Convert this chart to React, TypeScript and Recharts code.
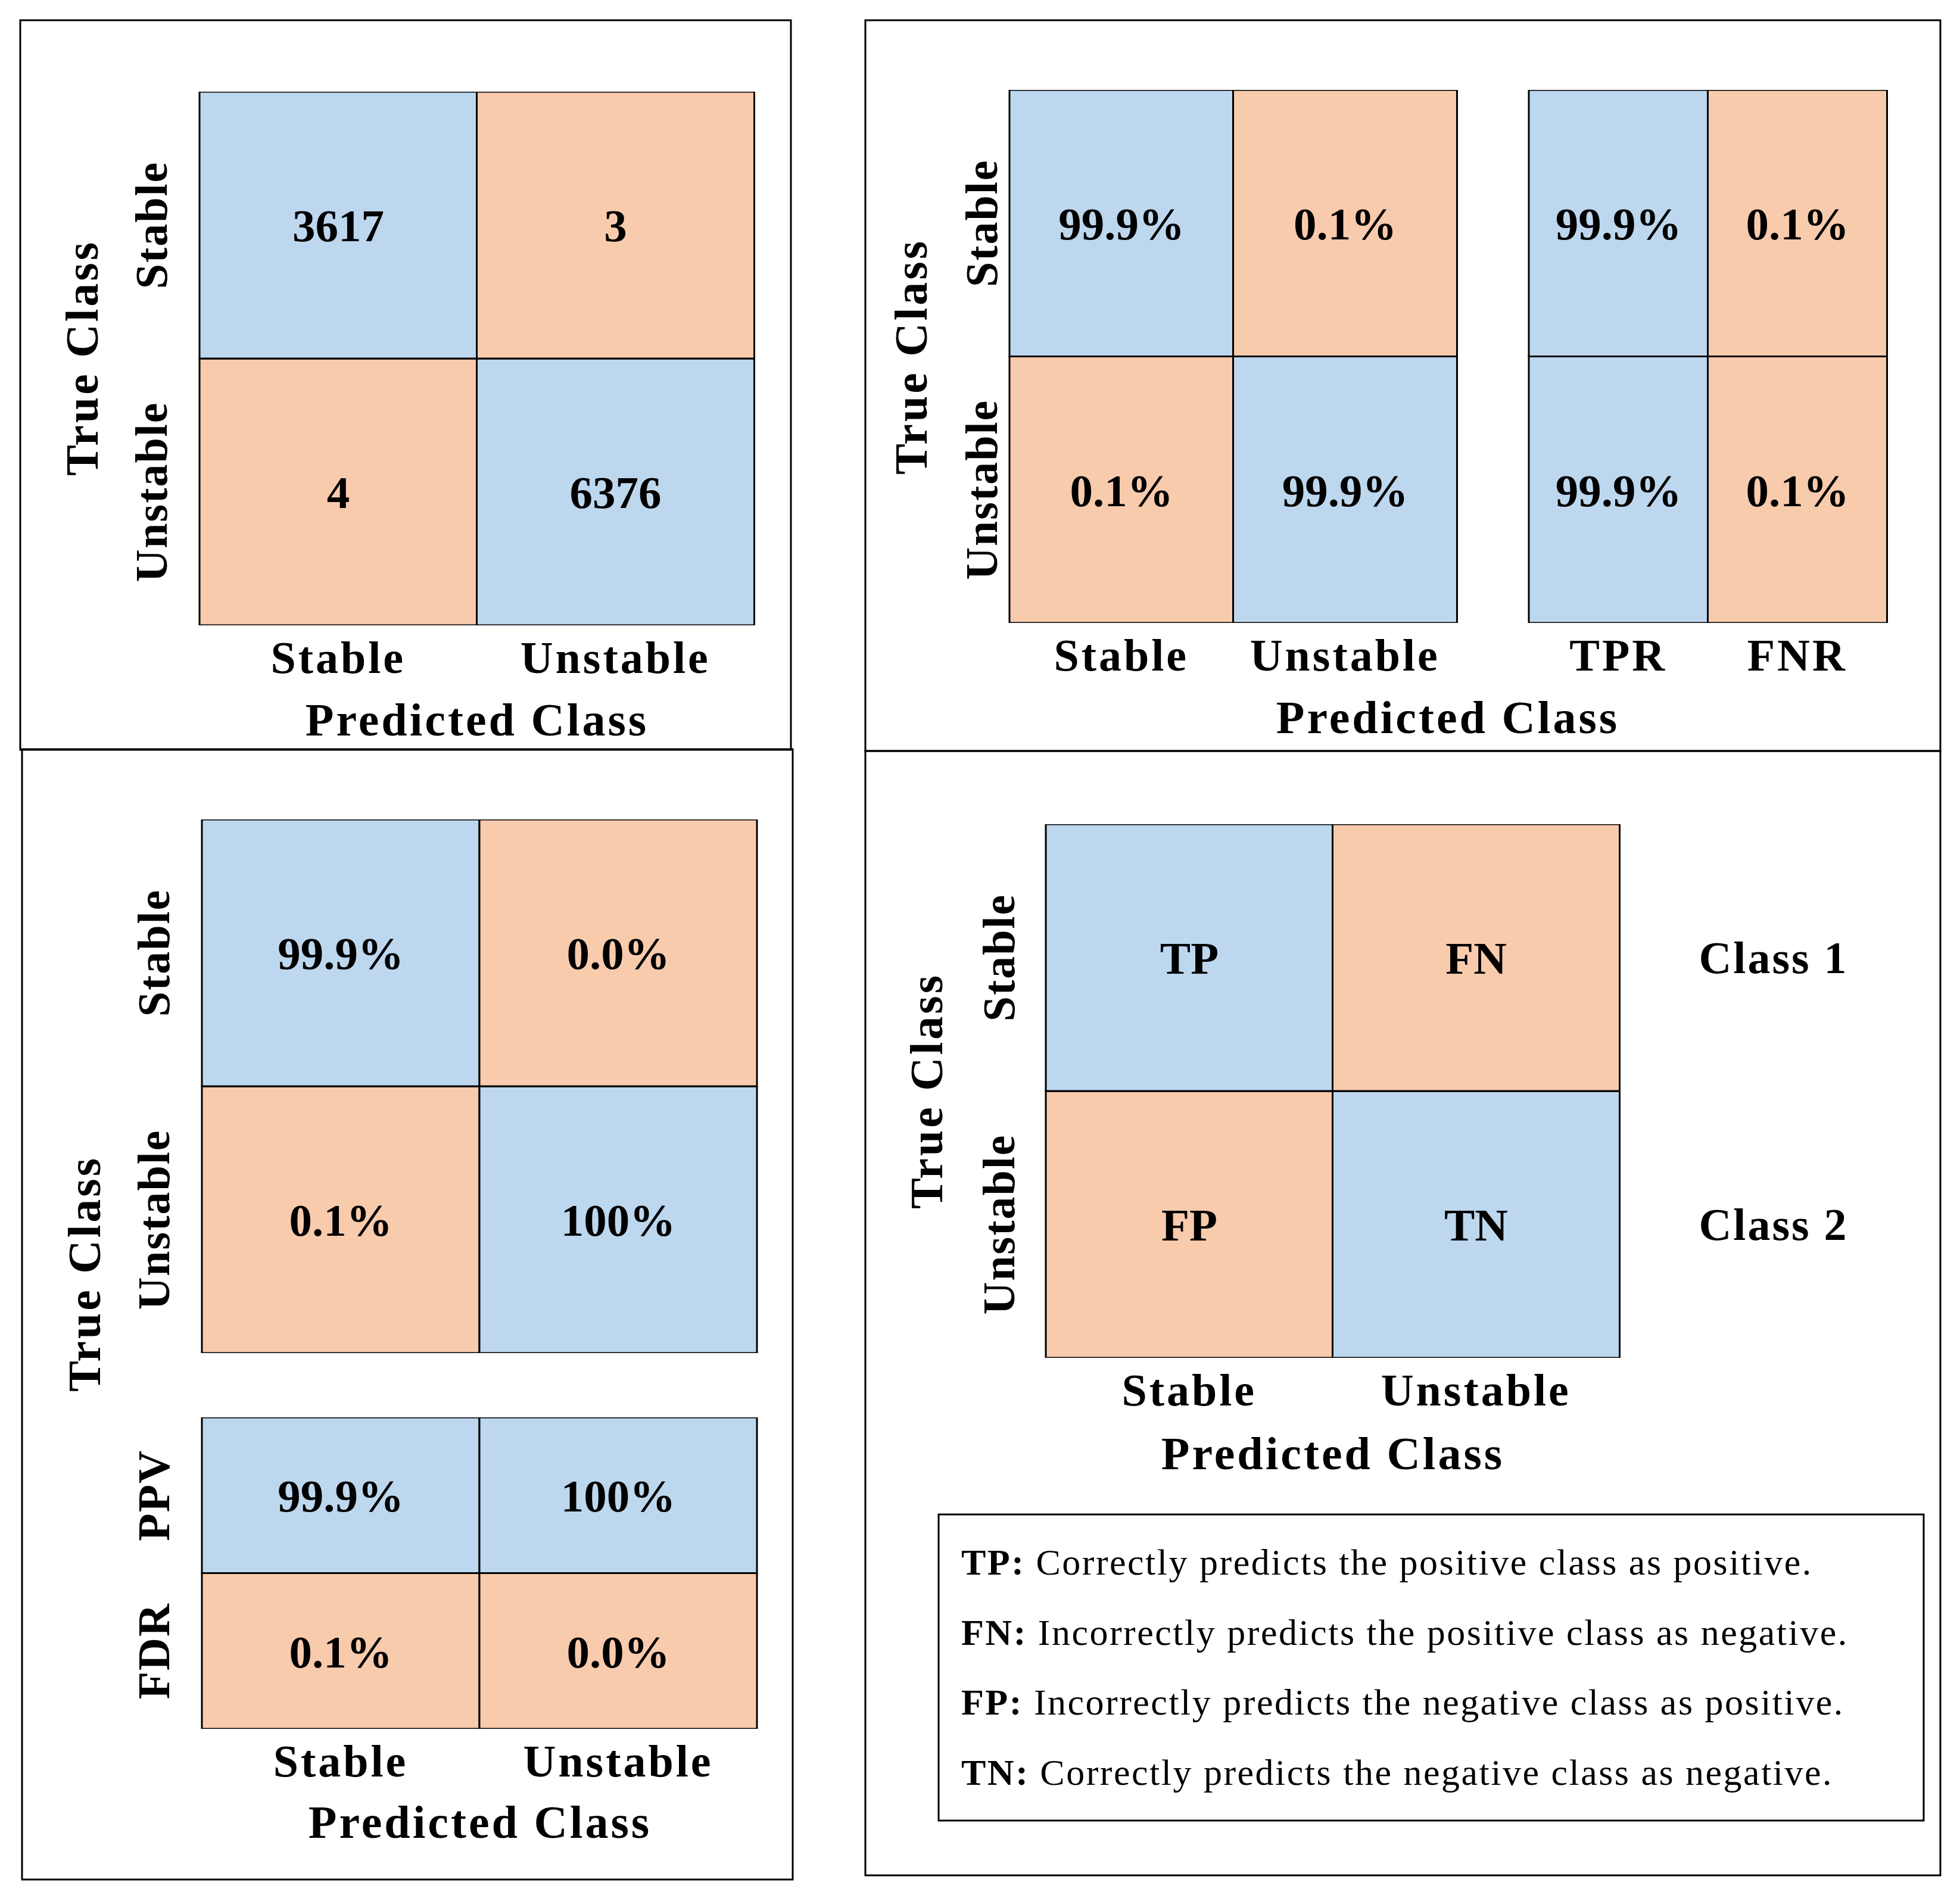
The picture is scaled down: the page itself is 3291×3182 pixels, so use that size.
import React from 'react';
import { BarChart, Bar, XAxis, YAxis, Cell, LabelList } from 'recharts';

// ---------- data ----------
const predictedClasses = ['Stable', 'Unstable'];
const trueClasses = ['Stable', 'Unstable'];
const countValues = [
  [3617, 3],
  [4, 6376],
];
const rowRateValues = [
  ['99.9%', '0.1%'],
  ['0.1%', '99.9%'],
];
const recallColumns = ['TPR', 'FNR'];
const recallValues = [
  ['99.9%', '0.1%'],
  ['99.9%', '0.1%'],
];
const colRateValues = [
  ['99.9%', '0.0%'],
  ['0.1%', '100%'],
];
const precisionRows = ['PPV', 'FDR'];
const precisionValues = [
  ['99.9%', '100%'],
  ['0.1%', '0.0%'],
];
const outcomeLabels = [
  ['TP', 'FN'],
  ['FP', 'TN'],
];
const classNames = ['Class 1', 'Class 2'];
const definitionTerms = ['TP:', 'FN:', 'FP:', 'TN:'];
const definitionTexts = [
  'Correctly predicts the positive class as positive.',
  'Incorrectly predicts the positive class as negative.',
  'Incorrectly predicts the negative class as positive.',
  'Correctly predicts the negative class as negative.',
];

// ---------- style ----------
const FONT = '"Liberation Serif", "Times New Roman", serif';
const BLUE = '#BDD7EE';
const ORANGE = '#F8CBAD';
const diagColor = (i: number, j: number) => (i === j ? BLUE : ORANGE);
const colColor = (_i: number, j: number) => (j === 0 ? BLUE : ORANGE);
const rowColor = (i: number, _j: number) => (i === 0 ? BLUE : ORANGE);

const PAD = 12;
const YW = 170;
const XH = 130;
const RW = 420;
const VALUE_SIZE = 77;
const TICK_SIZE = 76;
const TITLE_SIZE = 78;

type MatrixProps = {
  rows: string[];
  cols: string[];
  values: (string | number)[][];
  colorOf: (i: number, j: number) => string;
  rect: [number, number, number, number];
  showX?: boolean;
  showY?: boolean;
  yGap?: number;
  rightLabels?: string[];
};

function Matrix({ rows, cols, values, colorOf, rect, showX = true, showY = true, yGap = 55, rightLabels }: MatrixProps) {
  const [x0, y0, x1, y1] = rect;
  const mw = x1 - x0;
  const mh = y1 - y0;
  const n = rows.length;
  const data = cols.map((c, j) => {
    const d: any = { col: c };
    rows.forEach((_, i) => {
      d['r' + i] = 1;
      d['v' + i] = values[i][j];
    });
    return d;
  });
  const ticks = rows.map((_, i) => n - i - 0.5);
  const rightW = rightLabels ? RW : 0;
  const width = YW + mw + PAD + rightW;
  const height = PAD + mh + (showX ? XH : PAD);
  const order = rows.map((_, i) => n - 1 - i);

  const xTick = (p: any) => (
    <text
      x={p.x}
      y={p.y + 80}
      textAnchor="middle"
      fontFamily={FONT}
      fontWeight={700}
      fontSize={TICK_SIZE}
      letterSpacing={4}
      fill="#000"
    >
      {p.payload.value}
    </text>
  );
  const yTick = (p: any) => {
    const idx = Math.round(n - 0.5 - p.payload.value);
    const bx = p.x - yGap;
    return (
      <text
        x={bx}
        y={p.y}
        transform={`rotate(-90 ${bx} ${p.y})`}
        textAnchor="middle"
        fontFamily={FONT}
        fontWeight={700}
        fontSize={TICK_SIZE}
        letterSpacing={2}
        fill="#000"
      >
        {rows[idx]}
      </text>
    );
  };
  const rTick = (p: any) => {
    const idx = Math.round(n - 0.5 - p.payload.value);
    return (
      <text
        x={p.x + 259}
        y={p.y}
        textAnchor="middle"
        dominantBaseline="central"
        fontFamily={FONT}
        fontWeight={700}
        fontSize={TICK_SIZE}
        letterSpacing={3}
        fill="#000"
      >
        {rightLabels ? rightLabels[idx] : ''}
      </text>
    );
  };

  return (
    <div style={{ position: 'absolute', left: x0 - YW, top: y0 - PAD }}>
      <BarChart
        width={width}
        height={height}
        data={data}
        margin={{ top: PAD, right: PAD, bottom: showX ? 0 : PAD, left: 0 }}
        barCategoryGap={0}
        barGap={0}
      >
        <XAxis
          dataKey="col"
          type="category"
          hide={!showX}
          height={XH}
          axisLine={false}
          tickLine={false}
          tickSize={0}
          tickMargin={0}
          interval={0}
          tick={xTick}
        />
        <YAxis
          yAxisId="l"
          type="number"
          domain={[0, n]}
          ticks={ticks}
          width={YW}
          axisLine={false}
          tickLine={false}
          tickSize={0}
          tickMargin={0}
          interval={0}
          allowDataOverflow
          tick={showY ? yTick : false}
        />
        {rightLabels && (
          <YAxis
            yAxisId="r"
            orientation="right"
            type="number"
            domain={[0, n]}
            ticks={ticks}
            width={RW}
            axisLine={false}
            tickLine={false}
            tickSize={0}
            tickMargin={0}
            interval={0}
            allowDataOverflow
            tick={rTick}
          />
        )}
        {order.map((i) => (
          <Bar
            key={'r' + i}
            yAxisId="l"
            dataKey={'r' + i}
            stackId="m"
            stroke="#000"
            strokeWidth={3}
            isAnimationActive={false}
          >
            {cols.map((c, j) => (
              <Cell key={c + j} fill={colorOf(i, j)} />
            ))}
            <LabelList
              dataKey={'v' + i}
              position="center"
              fill="#000"
              fontFamily={FONT}
              fontWeight={700}
              fontSize={VALUE_SIZE}
            />
          </Bar>
        ))}
      </BarChart>
    </div>
  );
}

const titleStyle = {
  fontFamily: FONT,
  fontWeight: 700,
  fontSize: TITLE_SIZE,
  letterSpacing: 4,
  fill: '#000',
} as const;

function XTitle({ x, y }: { x: number; y: number }) {
  return (
    <text x={x} y={y} textAnchor="middle" style={titleStyle}>
      Predicted Class
    </text>
  );
}
function YTitle({ x, y }: { x: number; y: number }) {
  return (
    <text x={x} y={y} textAnchor="middle" transform={`rotate(-90 ${x} ${y})`} style={titleStyle}>
      True Class
    </text>
  );
}

const panels: [number, number, number, number][] = [
  [34, 34, 1328, 1259],
  [1453, 34, 3258, 1261],
  [37, 1258, 1331, 3156],
  [1453, 1261, 3258, 3149],
];

export default function App() {
  return (
    <div style={{ position: 'absolute', left: 0, top: 0, width: 3291, height: 3182, background: '#fff' }}>
      {/* Panel 1: counts */}
      <Matrix rows={trueClasses} cols={predictedClasses} values={countValues} colorOf={diagColor} rect={[335, 154, 1266, 1050]} />
      {/* Panel 2: row-normalised + TPR/FNR */}
      <Matrix rows={trueClasses} cols={predictedClasses} values={rowRateValues} colorOf={diagColor} rect={[1695, 151, 2446, 1046]} yGap={21} />
      <Matrix rows={trueClasses} cols={recallColumns} values={recallValues} colorOf={colColor} rect={[2567, 151, 3168, 1046]} showY={false} />
      {/* Panel 3: column-normalised + PPV/FDR */}
      <Matrix rows={trueClasses} cols={predictedClasses} values={colRateValues} colorOf={diagColor} rect={[339, 1376, 1271, 2272]} showX={false} />
      <Matrix rows={precisionRows} cols={predictedClasses} values={precisionValues} colorOf={rowColor} rect={[339, 2380, 1271, 2903]} />
      {/* Panel 4: outcome layout */}
      <Matrix rows={trueClasses} cols={predictedClasses} values={outcomeLabels} colorOf={diagColor} rect={[1756, 1384, 2719, 2280]} yGap={53} rightLabels={classNames} />

      <svg width={3291} height={3182} style={{ position: 'absolute', left: 0, top: 0, pointerEvents: 'none' }}>
        {panels.map(([a, b, c, d], k) => (
          <rect key={k} x={a} y={b} width={c - a} height={d - b} fill="none" stroke="#000" strokeWidth={3} />
        ))}
        <XTitle x={801} y={1235} />
        <YTitle x={164} y={601} />
        <XTitle x={2431} y={1231} />
        <YTitle x={1556} y={599} />
        <XTitle x={806} y={3086} />
        <YTitle x={168} y={2139} />
        <XTitle x={2238} y={2467} />
        <YTitle x={1582} y={1832} />

        <rect x={1576} y={2543} width={3230 - 1576} height={3057 - 2543} fill="none" stroke="#000" strokeWidth={3} />
        {definitionTerms.map((t, k) => (
          <text
            key={t}
            x={1614}
            y={2644 + k * 117.7}
            fontFamily={FONT}
            fontSize={62}
            letterSpacing={2.5}
            fill="#000"
          >
            <tspan fontWeight={700}>{t}</tspan>
            <tspan> {definitionTexts[k]}</tspan>
          </text>
        ))}
      </svg>
    </div>
  );
}
